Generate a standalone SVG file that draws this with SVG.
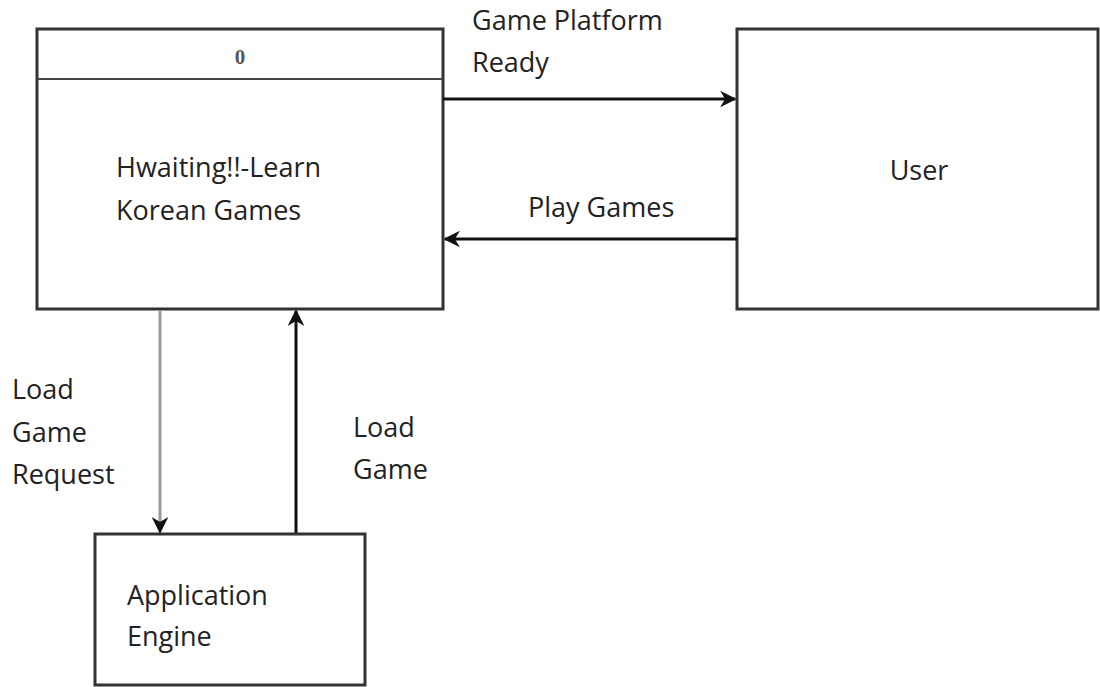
<svg xmlns="http://www.w3.org/2000/svg" width="1100" height="687" viewBox="0 0 1100 687">
  <style>
    .box { fill: #fff; stroke: #333; stroke-width: 3; }
    .flow { stroke: #111; stroke-width: 3; fill: none; }
    .lbl { font-family: "Open Sans", "Noto Sans", sans-serif; font-size: 27px; fill: #222; }
  </style>
  <defs>
    <marker id="arrow" viewBox="0 0 10 10" refX="9" refY="5" markerWidth="5.5" markerHeight="5.5" orient="auto" markerUnits="strokeWidth">
      <path d="M0,0 L10,5 L0,10 L3,5 z" fill="#111"/>
    </marker>
  </defs>
  <rect width="1100" height="687" fill="#fff"/>

  <!-- process 0 -->
  <g id="process-hwaiting">
    <rect class="box" x="37" y="29" width="406" height="280"/>
    <line x1="37" y1="79" x2="443" y2="79" stroke="#444" stroke-width="2"/>
    <text x="240" y="64" text-anchor="middle" font-family="Liberation Serif, serif" font-weight="bold" font-size="21" fill="#555">0</text>
    <text class="lbl" x="116" y="177">Hwaiting!!-Learn</text>
    <text class="lbl" x="116" y="220">Korean Games</text>
  </g>

  <!-- external entity -->
  <g id="entity-user">
    <rect class="box" x="737" y="29" width="361" height="280"/>
    <text class="lbl" x="919" y="180" text-anchor="middle">User</text>
  </g>

  <!-- application engine -->
  <g id="entity-engine">
    <rect class="box" x="95" y="534" width="270" height="151"/>
    <text class="lbl" x="127" y="605">Application</text>
    <text class="lbl" x="127" y="646">Engine</text>
  </g>

  <!-- data flows -->
  <g id="connectors">
    <line class="flow" x1="443" y1="99" x2="735" y2="99" marker-end="url(#arrow)"/>
    <line class="flow" x1="737" y1="239" x2="445" y2="239" marker-end="url(#arrow)"/>
    <line class="flow" x1="160" y1="310" x2="160" y2="532" marker-end="url(#arrow)" style="stroke:#999"/>
    <line class="flow" x1="296" y1="533" x2="296" y2="311" marker-end="url(#arrow)"/>
  </g>

  <g id="flow-labels">
    <text class="lbl" x="472" y="30">Game Platform</text>
    <text class="lbl" x="472" y="72">Ready</text>
    <text class="lbl" x="528" y="217">Play Games</text>
    <text class="lbl" x="12" y="399">Load</text>
    <text class="lbl" x="12" y="442">Game</text>
    <text class="lbl" x="12" y="484">Request</text>
    <text class="lbl" x="353" y="437">Load</text>
    <text class="lbl" x="353" y="479">Game</text>
  </g>
</svg>
